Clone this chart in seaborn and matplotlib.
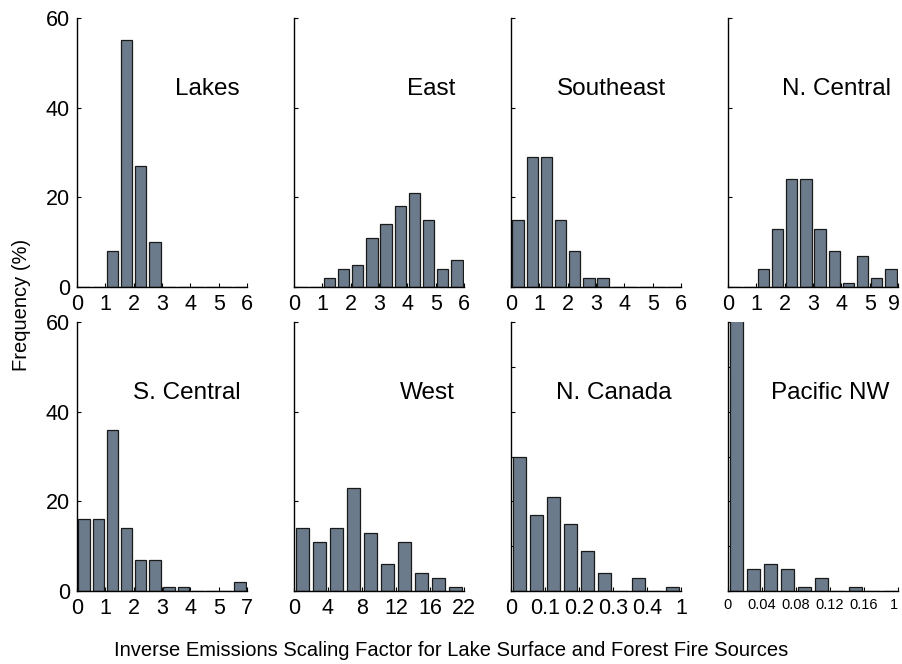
import matplotlib
matplotlib.use("Agg")
import matplotlib.pyplot as plt
import matplotlib.transforms as mtransforms
import seaborn as sns
import pandas as pd

sns.set_style("white")
plt.rcParams['font.family'] = ['Liberation Sans', 'DejaVu Sans']
plt.rcParams['text.color'] = 'black'
plt.rcParams['axes.labelcolor'] = 'black'

# ---- data (frequency % per bin) ----
regions = ["Lakes", "East", "Southeast", "N. Central",
           "S. Central", "West", "N. Canada", "Pacific NW"]

lakes_vals      = [0, 0, 8, 55, 27, 10, 0, 0, 0, 0, 0, 0]
east_vals       = [0, 0, 2, 4, 5, 11, 14, 18, 21, 15, 4, 6]
southeast_vals  = [15, 29, 29, 15, 8, 2, 2, 0, 0, 0, 0, 0]
ncentral_vals   = [0, 0, 4, 13, 24, 24, 13, 8, 1, 7, 2, 4]
scentral_vals   = [16, 16, 36, 14, 7, 7, 1, 1, 0, 0, 0, 2]
west_vals       = [14, 11, 14, 23, 13, 6, 11, 4, 3, 1]
ncanada_vals    = [30, 17, 21, 15, 9, 4, 0, 3, 0, 1]
pacificnw_vals  = [79, 5, 6, 5, 1, 3, 0, 1, 0, 0]

lakes_ticks     = ["0", "1", "2", "3", "4", "5", "6"]
east_ticks      = ["0", "1", "2", "3", "4", "5", "6"]
southeast_ticks = ["0", "1", "2", "3", "4", "5", "6"]
ncentral_ticks  = ["0", "1", "2", "3", "4", "5", "9"]
scentral_ticks  = ["0", "1", "2", "3", "4", "5", "7"]
west_ticks      = ["0", "4", "8", "12", "16", "22"]
ncanada_ticks   = ["0", "0.1", "0.2", "0.3", "0.4", "1"]
pacificnw_ticks = ["0", "0.04", "0.08", "0.12", "0.16", "1"]

y_ticks = [0, 20, 40, 60]

values = [lakes_vals, east_vals, southeast_vals, ncentral_vals,
          scentral_vals, west_vals, ncanada_vals, pacificnw_vals]
ticks = [lakes_ticks, east_ticks, southeast_ticks, ncentral_ticks,
         scentral_ticks, west_ticks, ncanada_ticks, pacificnw_ticks]

# ---- layout ----
W, H = 902, 664
fig = plt.figure(figsize=(W / 100, H / 100), dpi=100)

ax_w = 170
ax_h = 269
lefts = [77, 294, 511, 728]
bottoms_px = [287, 591]  # pixel y of the x-axis line

title_x = [0.959, 0.947, 0.912, 0.959, 0.965, 0.947, 0.947, 0.947]
bar_color = "#6C7B8B"

for i, (name, vals, tl) in enumerate(zip(regions, values, ticks)):
    row, col = divmod(i, 4)
    l = lefts[col] / W
    b = 1 - bottoms_px[row] / H
    ax = fig.add_axes([l, b, ax_w / W, ax_h / H])
    df = pd.DataFrame({"bin": list(range(len(vals))), "freq": vals})
    sns.barplot(data=df, x="bin", y="freq", ax=ax, color=bar_color,
                saturation=1, width=0.8, edgecolor="#1a1a1a",
                linewidth=0.9)
    n = len(vals)
    ax.set_xlim(-0.5, n - 0.5)
    ax.set_ylim(0, 60)
    ax.set_xticks([-0.5 + 2 * k for k in range(len(tl))])
    fs = 10.5 if name == "Pacific NW" else 15.5
    ax.set_xticklabels(tl, fontsize=fs, color="black")
    if name in ("N. Canada", "Pacific NW"):
        ax.set_yticks([0, 10, 20, 30, 40, 50, 60])
    else:
        ax.set_yticks(y_ticks)
    if col == 0:
        ax.set_yticklabels([str(v) for v in y_ticks], fontsize=15.5,
                           color="black")
    else:
        ax.set_yticklabels([])
    ax.set_xlabel("")
    ax.set_ylabel("")
    for s in ("top", "right"):
        ax.spines[s].set_visible(False)
    for s in ("left", "bottom"):
        ax.spines[s].set_color("black")
        ax.spines[s].set_linewidth(1.0)
    ax.tick_params(axis="both", direction="in", length=3, width=0.8,
                   colors="black", pad=5)
    ax.tick_params(axis="y", which="both", left=True)
    ax.tick_params(axis="x", bottom=True)
    ax.set_facecolor("white")
    # keep the last label of the right-most panels inside the figure
    if col == 3:
        last = ax.get_xticklabels()[-1]
        last.set_transform(last.get_transform() +
                           mtransforms.ScaledTranslation(-4 / 100, 0,
                                                         fig.dpi_scale_trans))
    ax.text(title_x[i], 0.735, name, transform=ax.transAxes,
            ha="right", va="center", fontsize=17.5, color="black")

fig.text(22 / W, 1 - 305 / H, "Frequency (%)", rotation=90,
         ha="center", va="center", fontsize=14.5, color="black")
fig.text(451 / W, 1 - 650 / H,
         "Inverse Emissions Scaling Factor for Lake Surface and Forest Fire Sources",
         ha="center", va="center", fontsize=14.5, color="black")

fig.savefig("out.png", dpi=100, facecolor="white")
